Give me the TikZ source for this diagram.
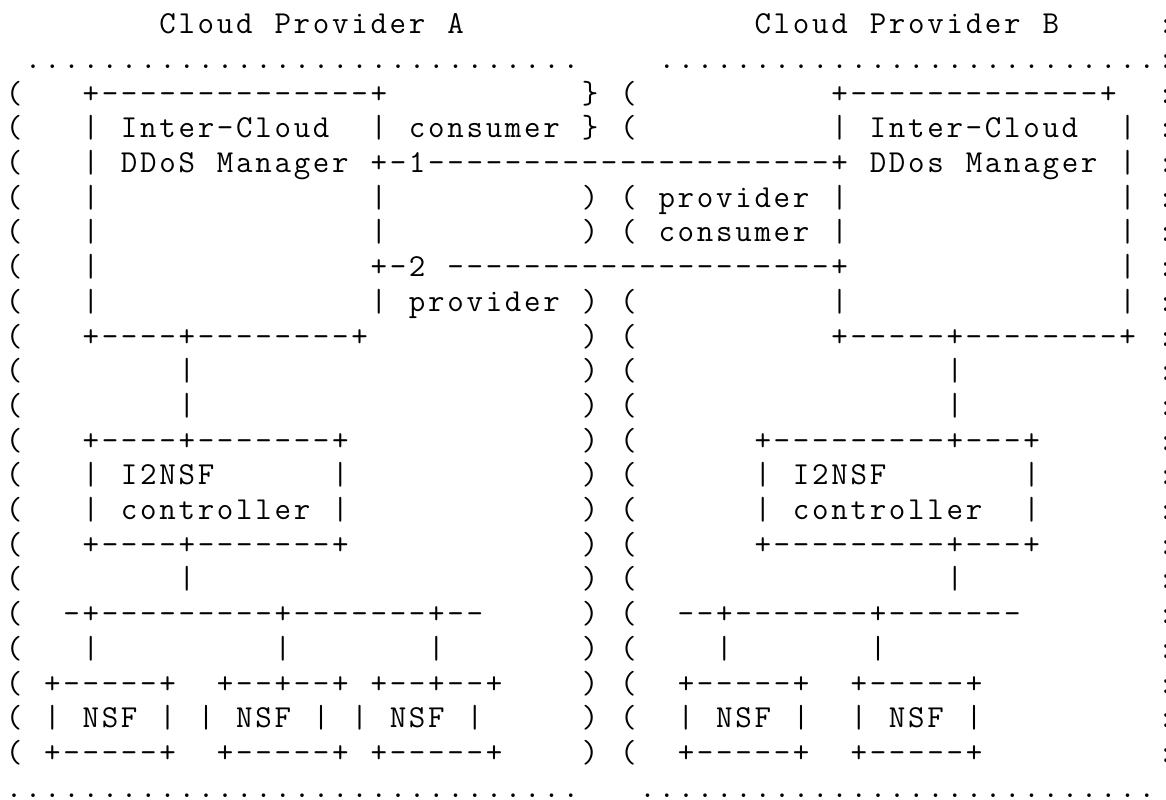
\documentclass[tikz,border=0pt]{standalone}
\ExplSyntaxOn
\str_new:N \l_asc_str
\cs_new:Npn \Rpt #1#2 { \prg_replicate:nn {#1} {#2} }
\NewDocumentCommand \asciiline { m }
 {
  \str_set:Nx \l_asc_str {#1}
  \str_map_inline:Nn \l_asc_str
   {
    \hbox_to_wd:nn {9.6pt}
     { \hss \str_case:nnF {##1} { {_} {} {@} {\symbol{125}} } {##1} \hss }
   }
 }
\ExplSyntaxOff
\tikzset{row/.style={anchor=base west, inner sep=0pt, outer sep=0pt,
  font=\fontsize{16}{18}\selectfont\ttfamily}}
\begin{document}
\begin{tikzpicture}
\useasboundingbox (0,0) rectangle (583pt,-399.5pt);
\node[row] (l0) at (2.2pt,-16.85pt) {\asciiline{\Rpt{8}{_}Cloud_Provider_A\Rpt{15}{_}Cloud_Provider_B\Rpt{5}{_}:}};
\node[row] (l1) at (2.2pt,-34.20pt) {\asciiline{_\Rpt{29}{.}\Rpt{4}{_}\Rpt{26}{.}:}};
\node[row] (l2) at (2.2pt,-51.55pt) {\asciiline{(\Rpt{3}{_}+\Rpt{14}{-}+\Rpt{10}{_}@_(\Rpt{10}{_}+\Rpt{13}{-}+__:}};
\node[row] (l3) at (2.2pt,-68.90pt) {\asciiline{(\Rpt{3}{_}|_Inter-Cloud__|_consumer_@_(\Rpt{10}{_}|_Inter-Cloud__|_:}};
\node[row] (l4) at (2.2pt,-86.25pt) {\asciiline{(\Rpt{3}{_}|_DDoS_Manager_+-1\Rpt{21}{-}+_DDos_Manager_|_:}};
\node[row] (l5) at (2.2pt,-103.60pt) {\asciiline{(\Rpt{3}{_}|\Rpt{14}{_}|\Rpt{10}{_})_(_provider_|\Rpt{14}{_}|_:}};
\node[row] (l6) at (2.2pt,-120.95pt) {\asciiline{(\Rpt{3}{_}|\Rpt{14}{_}|\Rpt{10}{_})_(_consumer_|\Rpt{14}{_}|_:}};
\node[row] (l7) at (2.2pt,-138.30pt) {\asciiline{(\Rpt{3}{_}|\Rpt{14}{_}+-2_\Rpt{20}{-}+\Rpt{14}{_}|_:}};
\node[row] (l8) at (2.2pt,-155.65pt) {\asciiline{(\Rpt{3}{_}|\Rpt{14}{_}|_provider_)_(\Rpt{10}{_}|\Rpt{14}{_}|_:}};
\node[row] (l9) at (2.2pt,-173.00pt) {\asciiline{(\Rpt{3}{_}+----+\Rpt{8}{-}+\Rpt{11}{_})_(\Rpt{10}{_}+-----+\Rpt{8}{-}+_:}};
\node[row] (l10) at (2.2pt,-190.35pt) {\asciiline{(\Rpt{8}{_}|\Rpt{20}{_})_(\Rpt{16}{_}|\Rpt{10}{_}:}};
\node[row] (l11) at (2.2pt,-207.70pt) {\asciiline{(\Rpt{8}{_}|\Rpt{20}{_})_(\Rpt{16}{_}|\Rpt{10}{_}:}};
\node[row] (l12) at (2.2pt,-225.05pt) {\asciiline{(\Rpt{3}{_}+----+\Rpt{7}{-}+\Rpt{12}{_})_(\Rpt{6}{_}+\Rpt{9}{-}+---+\Rpt{6}{_}:}};
\node[row] (l13) at (2.2pt,-242.40pt) {\asciiline{(\Rpt{3}{_}|_I2NSF\Rpt{6}{_}|\Rpt{12}{_})_(\Rpt{6}{_}|_I2NSF\Rpt{7}{_}|\Rpt{6}{_}:}};
\node[row] (l14) at (2.2pt,-259.75pt) {\asciiline{(\Rpt{3}{_}|_controller_|\Rpt{12}{_})_(\Rpt{6}{_}|_controller__|\Rpt{6}{_}:}};
\node[row] (l15) at (2.2pt,-277.10pt) {\asciiline{(\Rpt{3}{_}+----+\Rpt{7}{-}+\Rpt{12}{_})_(\Rpt{6}{_}+\Rpt{9}{-}+---+\Rpt{6}{_}:}};
\node[row] (l16) at (2.2pt,-294.45pt) {\asciiline{(\Rpt{8}{_}|\Rpt{20}{_})_(\Rpt{16}{_}|\Rpt{10}{_}:}};
\node[row] (l17) at (2.2pt,-311.80pt) {\asciiline{(__-+\Rpt{9}{-}+\Rpt{7}{-}+--\Rpt{5}{_})_(__--+\Rpt{7}{-}+\Rpt{7}{-}\Rpt{7}{_}:}};
\node[row] (l18) at (2.2pt,-329.15pt) {\asciiline{(\Rpt{3}{_}|\Rpt{9}{_}|\Rpt{7}{_}|\Rpt{7}{_})_(\Rpt{4}{_}|\Rpt{7}{_}|\Rpt{14}{_}:}};
\node[row] (l19) at (2.2pt,-346.50pt) {\asciiline{(_+-----+__+--+--+_+--+--+____)_(__+-----+__+-----+\Rpt{9}{_}:}};
\node[row] (l20) at (2.2pt,-363.85pt) {\asciiline{(_|_NSF_|_|_NSF_|_|_NSF_|\Rpt{5}{_})_(__|_NSF_|__|_NSF_|\Rpt{9}{_}:}};
\node[row] (l21) at (2.2pt,-381.20pt) {\asciiline{(_+-----+__+-----+_+-----+____)_(__+-----+__+-----+\Rpt{9}{_}:}};
\node[row] (l22) at (2.2pt,-398.55pt) {\asciiline{\Rpt{30}{.}___\Rpt{27}{.}}};
\end{tikzpicture}
\end{document}
